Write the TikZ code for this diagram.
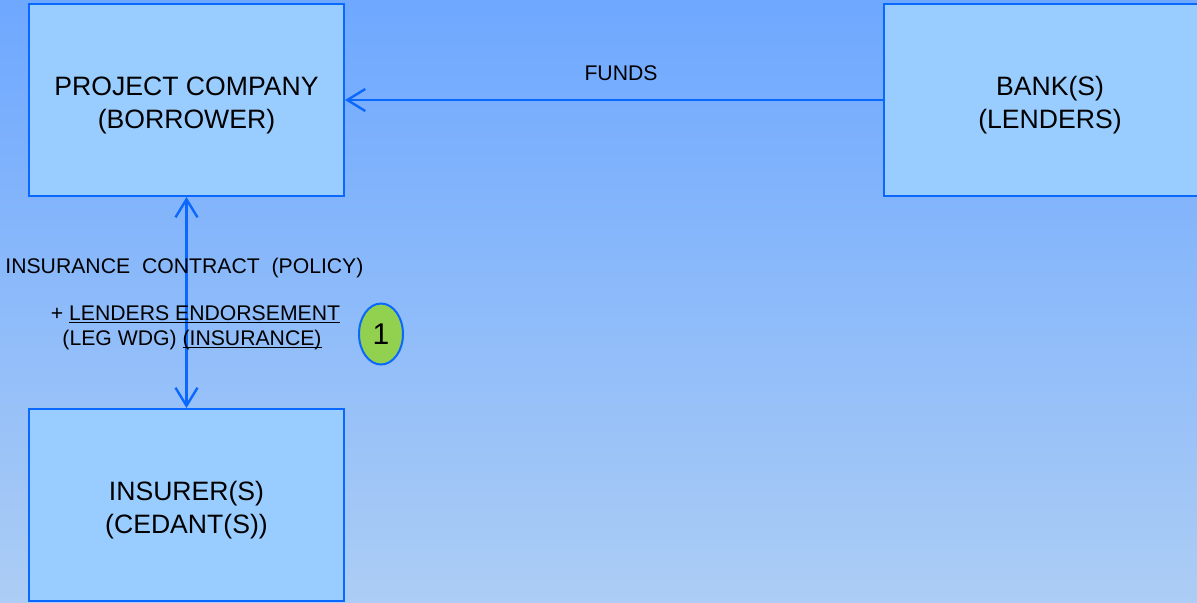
\documentclass[tikz,border=0pt]{standalone}
\usepackage{fontspec}
\setmainfont{Liberation Sans}
\usetikzlibrary{arrows.meta,shapes.geometric}
\definecolor{bgtop}{RGB}{110,168,255}
\definecolor{bgbot}{RGB}{172,205,245}
\definecolor{boxfill}{RGB}{153,204,255}
\definecolor{boxline}{RGB}{10,104,255}
\definecolor{badge}{RGB}{146,208,80}
\newcommand\myul[1]{\setbox0\hbox{#1}\rlap{\rule[-1.4pt]{\wd0}{0.5pt}}\box0}
\newcommand\topstrut{\rule{0pt}{15pt}}
\tikzset{
  box/.style={draw=boxline, line width=1pt, fill=boxfill, align=center,
    font=\fontsize{13.3pt}{16.5pt}\selectfont, inner sep=0pt},
  conn/.style={draw=boxline, line width=1.2pt},
  barb/.tip={Straight Barb[length=9pt,width=11pt,line width=1.2pt]},
  lbl/.style={font=\fontsize{10.6pt}{12.6pt}\selectfont, inner sep=0pt},
}
\begin{document}
\begin{tikzpicture}[x=0.5pt,y=0.5pt]
\useasboundingbox (0,0) rectangle (1197,-602);
\clip (0,0) rectangle (1197,-602);
\fill[top color=bgtop, bottom color=bgbot] (0,0) rectangle (1197,-602);
\node[box, minimum width=157.5pt, minimum height=96pt] (pc) at (186.5,-100) {\topstrut PROJECT COMPANY\\(BORROWER)};
\node[box, minimum width=166pt, minimum height=96pt] (bank) at (1050,-100) {\topstrut BANK(S)\\(LENDERS)};
\node[box, minimum width=157.5pt, minimum height=96pt] (ins) at (186.5,-505) {\topstrut INSURER(S)\\(CEDANT(S))};
\draw[conn, -barb] (bank.west) -- (pc.east);
\draw[conn, barb-barb] (pc.south) -- (ins.north);
\node[lbl, anchor=base] (funds) at (621,-80) {FUNDS};
\node[lbl, anchor=base west] (contract) at (5,-273) {INSURANCE\ \ CONTRACT\ \ (POLICY)};
\node[lbl, anchor=base] (endorse) at (195.5,-320) {+ \myul{LENDERS ENDORSEMENT}};
\node[lbl, anchor=base] (legwdg) at (192,-345) {(LEG WDG) \myul{(INSURANCE)}};
\node[ellipse, draw=boxline, line width=1pt, fill=badge, minimum width=22pt, minimum height=30.5pt, inner sep=0pt, font=\fontsize{15pt}{18pt}\selectfont] (one) at (381,-334) {1};
\end{tikzpicture}
\end{document}
